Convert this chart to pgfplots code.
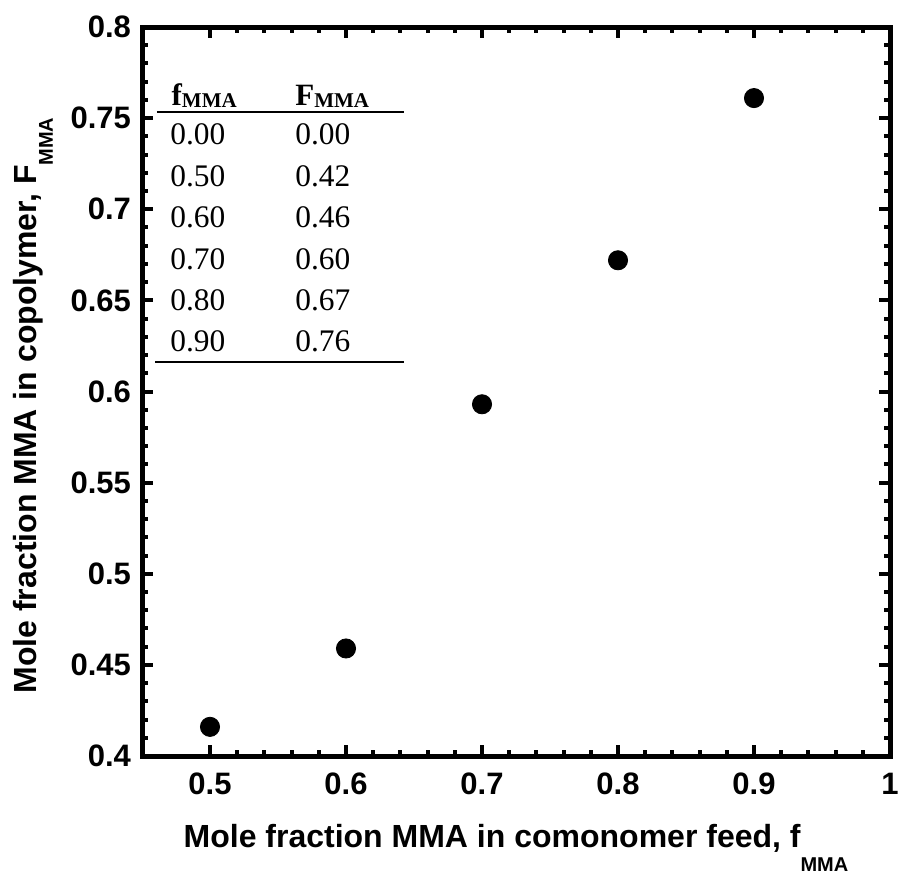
\documentclass[border=0pt]{standalone}
\usepackage{pgfplots}
\pgfplotsset{compat=1.18}
\usepackage{fontspec}
\setmainfont{Liberation Sans}
\newfontfamily\tnr{Liberation Serif}
\tikzset{tabtxt/.style={anchor=base west, inner sep=0pt, font=\tnr\fontsize{15.7}{16}\selectfont}}
\begin{document}
\begin{tikzpicture}
\begin{axis}[
  name=ax,
  scale only axis,
  width=374pt, height=364.5pt,
  xmin=0.45, xmax=1.0, ymin=0.4, ymax=0.8,
  xtick={0.5,0.6,0.7,0.8,0.9,1.0},
  ytick={0.4,0.45,0.5,0.55,0.6,0.65,0.7,0.75,0.8},
  minor x tick num=4, minor y tick num=4,
  tick align=inside,
  major tick length=5.5pt, minor tick length=2.9pt,
  every tick/.style={line width=2pt, black},
  axis line style={line width=2.5pt},
  /pgf/number format/assume math mode=true,
  ticklabel style={font=\fontsize{15.5}{17}\selectfont\bfseries},
  xticklabel style={yshift=-5pt},
  yticklabel style={xshift=-2pt},
  xlabel={\fontsize{16}{18}\selectfont\bfseries Mole fraction MMA in comonomer feed, f\raisebox{-12pt}{\fontsize{10}{11}\selectfont MMA}},
  ylabel={\fontsize{16}{18}\selectfont\bfseries Mole fraction MMA in copolymer, F\raisebox{-8pt}{\fontsize{10}{11}\selectfont MMA}},
  xlabel style={yshift=-8pt},
  ylabel style={yshift=2pt, xshift=-7pt},
  clip=false,
]
\addplot[only marks, mark=*, mark size=4.8pt, black] coordinates {
  (0.5,0.416) (0.6,0.459) (0.7,0.593) (0.8,0.672) (0.9,0.761)
};
\coordinate (sw) at (rel axis cs:0,0);
\coordinate (ne) at (rel axis cs:1,1);
% inset table
\draw[line width=1.3pt] (axis cs:0.461,0.7534) -- (axis cs:0.6425,0.7534);
\draw[line width=1.3pt] (axis cs:0.4596,0.6162) -- (axis cs:0.6425,0.6162);
\node[anchor=base west, inner sep=0pt, font=\tnr\bfseries\fontsize{15.5}{16}\selectfont] at (axis cs:0.4715,0.7567) {f\raisebox{-1pt}{\fontsize{10.5}{11}\selectfont MMA}};
\node[anchor=base west, inner sep=0pt, font=\tnr\bfseries\fontsize{15.5}{16}\selectfont] at (axis cs:0.5625,0.7567) {F\raisebox{-1pt}{\fontsize{10.5}{11}\selectfont MMA}};
\node[tabtxt] at (axis cs:0.4706,0.7353) {0.00};
\node[tabtxt] at (axis cs:0.5625,0.7353) {0.00};
\node[tabtxt] at (axis cs:0.4706,0.7125) {0.50};
\node[tabtxt] at (axis cs:0.5625,0.7125) {0.42};
\node[tabtxt] at (axis cs:0.4706,0.6898) {0.60};
\node[tabtxt] at (axis cs:0.5625,0.6898) {0.46};
\node[tabtxt] at (axis cs:0.4706,0.6671) {0.70};
\node[tabtxt] at (axis cs:0.5625,0.6671) {0.60};
\node[tabtxt] at (axis cs:0.4706,0.6444) {0.80};
\node[tabtxt] at (axis cs:0.5625,0.6444) {0.67};
\node[tabtxt] at (axis cs:0.4706,0.6217) {0.90};
\node[tabtxt] at (axis cs:0.5625,0.6217) {0.76};
\end{axis}
\pgfresetboundingbox
\path ([shift={(-71pt,-61pt)}]sw) rectangle ([shift={(5.5pt,13.5pt)}]ne);
\end{tikzpicture}
\end{document}
